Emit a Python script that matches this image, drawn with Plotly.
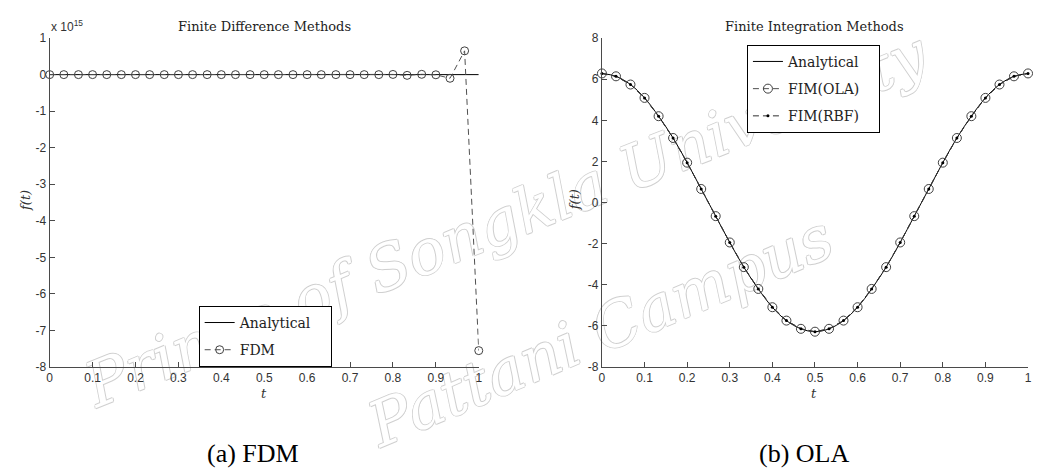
import plotly.graph_objects as go

# ---------------- data ----------------
t = [0.000, 0.033, 0.067, 0.100, 0.133, 0.167, 0.200, 0.233, 0.267, 0.300,
     0.333, 0.367, 0.400, 0.433, 0.467, 0.500, 0.533, 0.567, 0.600, 0.633,
     0.667, 0.700, 0.733, 0.767, 0.800, 0.833, 0.867, 0.900, 0.933, 0.967, 1.000]

analytical = [6.28, 6.14, 5.74, 5.09, 4.20, 3.14, 1.94, 0.66, -0.66, -1.94,
              -3.14, -4.20, -5.09, -5.74, -6.14, -6.28, -6.14, -5.74, -5.09, -4.20,
              -3.14, -1.94, -0.66, 0.66, 1.94, 3.14, 4.20, 5.09, 5.74, 6.14, 6.28]

fdm = [6.28, 6.1, 5.7, 5.1, 4.2, 3.1, 1.9, 0.7, -0.7, -1.9,
       -3.1, -4.2, -5.1, -5.7, -6.1, -6.3, 2.0e3, -4.0e4, 6.0e5, -1.0e7,
       1.5e8, -2.0e9, 3.0e10, -4.0e11, 5.0e12, -2.0e13, 8.0e12, -5.0e12,
       -1.0e14, 6.5e14, -7.55e15]

fim_ola = [6.28, 6.14, 5.74, 5.09, 4.20, 3.14, 1.94, 0.66, -0.66, -1.94,
           -3.14, -4.20, -5.09, -5.74, -6.14, -6.28, -6.14, -5.74, -5.09, -4.20,
           -3.14, -1.94, -0.66, 0.66, 1.94, 3.14, 4.20, 5.09, 5.74, 6.14, 6.28]

fim_rbf = [6.28, 6.14, 5.74, 5.09, 4.20, 3.14, 1.94, 0.66, -0.66, -1.94,
           -3.14, -4.20, -5.09, -5.74, -6.14, -6.28, -6.14, -5.74, -5.09, -4.20,
           -3.14, -1.94, -0.66, 0.66, 1.94, 3.14, 4.20, 5.09, 5.74, 6.14, 6.28]

x_ticks = [0, 0.1, 0.2, 0.3, 0.4, 0.5, 0.6, 0.7, 0.8, 0.9, 1]
x_ticktext = ["0", "0.1", "0.2", "0.3", "0.4", "0.5", "0.6", "0.7", "0.8", "0.9", "1"]
y1_ticks = [1e15, 0, -1e15, -2e15, -3e15, -4e15, -5e15, -6e15, -7e15, -8e15]
y1_ticktext = ["1", "0", "-1", "-2", "-3", "-4", "-5", "-6", "-7", "-8"]
y2_ticks = [8, 6, 4, 2, 0, -2, -4, -6, -8]
y2_ticktext = ["8", "6", "4", "2", "0", "-2", "-4", "-6", "-8"]

titles = ["Finite Difference Methods", "Finite Integration Methods"]
captions = ["(a) FDM", "(b) OLA"]
watermark = ["Prince of Songkla University", "Pattani Campus"]

# ---------------- figure ----------------
W, H = 1037, 475
def px(x):
    return x / W
def py(y):
    return 1 - y / H

SERIF = "DejaVu Serif"
SANS = "Liberation Sans"
AX = "#4a4a4a"
PAD = "\u2002\u2002"

fig = go.Figure()

# left panel
fig.add_trace(go.Scatter(x=t, y=analytical, mode="lines", name="Analytical" + PAD,
                         line=dict(color="black", width=1), cliponaxis=False,
                         xaxis="x", yaxis="y", legend="legend", legendgroup="a1"))
fig.add_trace(go.Scatter(x=t, y=fdm, mode="lines+markers", name="FDM",
                         line=dict(color="#505050", width=1, dash="6px,4px"),
                         marker=dict(symbol="circle-open", size=8, color="#404040",
                                     line=dict(width=1, color="#404040")),
                         cliponaxis=False,
                         xaxis="x", yaxis="y", legend="legend", legendgroup="a2"))

# right panel
fig.add_trace(go.Scatter(x=t, y=analytical, mode="lines", name="Analytical",
                         line=dict(color="black", width=1, shape="spline"), cliponaxis=False,
                         xaxis="x2", yaxis="y2", legend="legend2", legendgroup="b1"))
fig.add_trace(go.Scatter(x=t, y=fim_ola, mode="lines+markers", name="FIM(OLA)" + PAD,
                         line=dict(color="#505050", width=1, dash="6px,4px"),
                         marker=dict(symbol="circle-open", size=9, color="#404040",
                                     line=dict(width=1, color="#404040")),
                         cliponaxis=False,
                         xaxis="x2", yaxis="y2", legend="legend2", legendgroup="b2"))
fig.add_trace(go.Scatter(x=t, y=fim_rbf, mode="lines+markers", name="FIM(RBF)",
                         line=dict(color="#303030", width=1, dash="6px,4px"),
                         marker=dict(symbol="circle", size=3, color="black"),
                         cliponaxis=False,
                         xaxis="x2", yaxis="y2", legend="legend2", legendgroup="b3"))

axis_common = dict(showline=True, linecolor=AX, linewidth=1, ticks="inside",
                   ticklen=5, tickwidth=1, tickcolor=AX, showgrid=False,
                   zeroline=False, mirror=False,
                   tickfont=dict(family=SANS, size=12, color="#333333"))

ydom = [py(371), py(32)]
fig.update_layout(
    width=W, height=H,
    margin=dict(l=0, r=0, t=0, b=0),
    paper_bgcolor="white", plot_bgcolor="rgba(0,0,0,0)",
    xaxis=dict(domain=[px(47), px(479)], range=[0, 1], tickvals=x_ticks,
               ticktext=x_ticktext, anchor="y", **axis_common),
    yaxis=dict(domain=ydom, range=[-8e15, 1e15], tickvals=y1_ticks,
               ticktext=y1_ticktext, anchor="x", **axis_common),
    xaxis2=dict(domain=[px(603), px(1032)], range=[0, 1], tickvals=x_ticks,
                ticktext=x_ticktext, anchor="y2", **axis_common),
    yaxis2=dict(domain=ydom, range=[-8, 8], tickvals=y2_ticks,
                ticktext=y2_ticktext, anchor="x2", **axis_common),
    legend=dict(x=px(197), y=py(308), xanchor="left", yanchor="top",
                bgcolor="white", bordercolor="black", borderwidth=1,
                font=dict(family=SERIF, size=14, color="#222222"),
                tracegroupgap=6, traceorder="grouped"),
    legend2=dict(x=px(749), y=py(39), xanchor="left", yanchor="top",
                 bgcolor="white", bordercolor="black", borderwidth=1,
                 font=dict(family=SERIF, size=14, color="#222222"),
                 tracegroupgap=6, traceorder="grouped"),
    showlegend=True,
)

ann = []
# titles
ann.append(dict(x=px(263), y=py(20), text=titles[0], showarrow=False,
                xref="paper", yref="paper", xanchor="center", yanchor="middle",
                font=dict(family=SERIF, size=13, color="#222222")))
ann.append(dict(x=px(817), y=py(20), text=titles[1], showarrow=False,
                xref="paper", yref="paper", xanchor="center", yanchor="middle",
                font=dict(family=SERIF, size=13, color="#222222")))
# exponent
ann.append(dict(x=px(46), y=py(20), text="x 10<sup>15</sup>", showarrow=False,
                xref="paper", yref="paper", xanchor="left", yanchor="middle",
                font=dict(family=SANS, size=12, color="#333333")))
# axis titles
for xc in (263, 817):
    ann.append(dict(x=px(xc), y=py(398), text="t", showarrow=False,
                    xref="paper", yref="paper", xanchor="center", yanchor="middle",
                    font=dict(family=SERIF, size=13, color="#333333", style="italic")))
for xc in (22, 575):
    ann.append(dict(x=px(xc), y=py(199), text="f(t)", showarrow=False, textangle=-90,
                    xref="paper", yref="paper", xanchor="center", yanchor="middle",
                    font=dict(family=SERIF, size=13, color="#333333", style="italic")))
# captions
ann.append(dict(x=px(252), y=py(460), text=captions[0], showarrow=False,
                xref="paper", yref="paper", xanchor="center", yanchor="middle",
                font=dict(family="Liberation Serif", size=26, color="black")))
ann.append(dict(x=px(806), y=py(460), text=captions[1], showarrow=False,
                xref="paper", yref="paper", xanchor="center", yanchor="middle",
                font=dict(family="Liberation Serif", size=26, color="black")))
fig.update_layout(annotations=ann)

# watermark drawn beneath the traces as shape labels
oc = "#d0d0d0"
outline = f"1px 0 0 {oc}, -1px 0 0 {oc}, 0 1px 0 {oc}, 0 -1px 0 {oc}"
wm_pos = [(505, 215, -22), (600, 330, -23)]
shapes = []
for txt, (cx, cy, ang) in zip(watermark, wm_pos):
    shapes.append(dict(type="rect", xref="paper", yref="paper",
                       x0=px(cx - 5), x1=px(cx + 5), y0=py(cy + 5), y1=py(cy - 5),
                       line=dict(width=0), fillcolor="rgba(0,0,0,0)", layer="below",
                       label=dict(text=txt, textposition="middle center", textangle=ang,
                                  font=dict(family=SERIF, size=62, color="white",
                                            style="italic", shadow=outline))))
fig.update_layout(shapes=shapes)

fig.write_html("out.html")
